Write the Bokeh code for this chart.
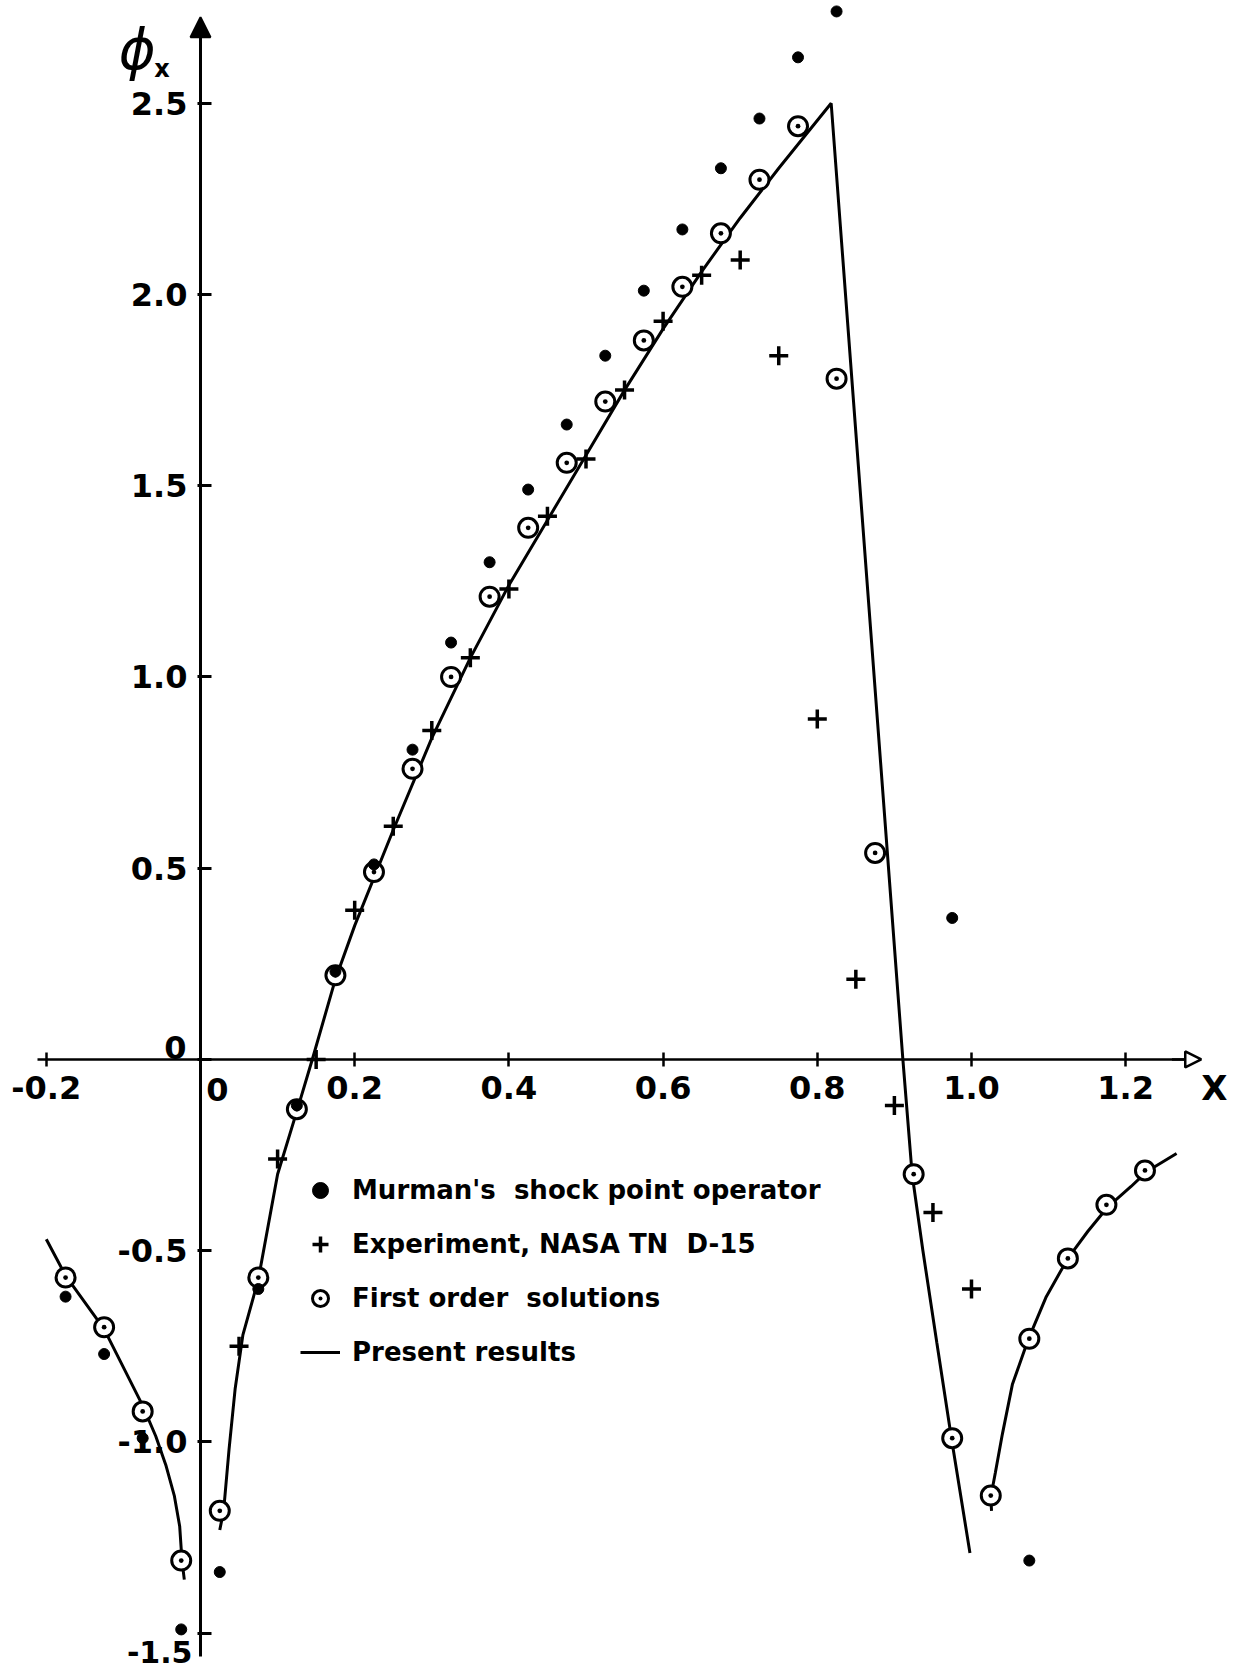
from bokeh.plotting import figure
from bokeh.models import (Range1d, FixedTicker, Label, Legend, LegendItem,
                          Arrow, NormalHead)
from bokeh.embed import file_html
from bokeh.resources import INLINE

# ---------------- data ----------------
# Murman's shock point operator (filled dots)
murman_x = [-0.175, -0.125, -0.075, -0.025, 0.025, 0.075, 0.125, 0.175,
            0.225, 0.275, 0.325, 0.375, 0.425, 0.475, 0.525, 0.575, 0.625,
            0.675, 0.725, 0.775, 0.825, 0.975, 1.075]
murman_y = [-0.62, -0.77, -0.99, -1.49, -1.34, -0.60, -0.12, 0.23,
            0.51, 0.81, 1.09, 1.30, 1.49, 1.66, 1.84, 2.01, 2.17,
            2.33, 2.46, 2.62, 2.74, 0.37, -1.31]

# Experiment, NASA TN D-15 (crosses)
exp_x = [0.05, 0.10, 0.15, 0.20, 0.25, 0.30, 0.35, 0.40, 0.45, 0.50,
         0.55, 0.60, 0.65, 0.70, 0.75, 0.80, 0.85, 0.90, 0.95, 1.00]
exp_y = [-0.75, -0.26, 0.0, 0.39, 0.61, 0.86, 1.05, 1.23, 1.42, 1.57,
         1.75, 1.93, 2.05, 2.09, 1.84, 0.89, 0.21, -0.12, -0.40, -0.60]

# First order solutions (circle with dot)
first_x = [-0.175, -0.125, -0.075, -0.025, 0.025, 0.075, 0.125, 0.175,
           0.225, 0.275, 0.325, 0.375, 0.425, 0.475, 0.525, 0.575, 0.625,
           0.675, 0.725, 0.775, 0.825, 0.875, 0.925, 0.975, 1.025, 1.075,
           1.125, 1.175, 1.225]
first_y = [-0.57, -0.70, -0.92, -1.31, -1.18, -0.57, -0.13, 0.22,
           0.49, 0.76, 1.00, 1.21, 1.39, 1.56, 1.72, 1.88, 2.02,
           2.16, 2.30, 2.44, 1.78, 0.54, -0.30, -0.99, -1.14, -0.73,
           -0.52, -0.38, -0.29]

# Present results (solid curve, three pieces)
left_x = [-0.20, -0.175, -0.125, -0.075, -0.058, -0.045, -0.034, -0.027, -0.024, -0.021]
left_y = [-0.47, -0.565, -0.705, -0.905, -0.985, -1.06, -1.14, -1.22, -1.31, -1.36]

mid_x = [0.025, 0.030, 0.037, 0.045, 0.055, 0.075, 0.100, 0.125, 0.145, 0.175,
         0.200, 0.250, 0.300, 0.350, 0.400, 0.450, 0.500, 0.550, 0.600,
         0.650, 0.700, 0.750, 0.818, 0.911, 0.923, 0.937, 0.955, 0.974, 0.998]
mid_y = [-1.23, -1.18, -1.02, -0.86, -0.72, -0.575, -0.30, -0.135, 0.0, 0.21,
         0.35, 0.60, 0.84, 1.05, 1.24, 1.41, 1.58, 1.75, 1.91,
         2.06, 2.20, 2.33, 2.50, 0.0, -0.30, -0.50, -0.74, -0.99, -1.29]

right_x = [1.026, 1.025, 1.031, 1.040, 1.053, 1.073, 1.097, 1.125, 1.151,
           1.177, 1.207, 1.228, 1.266]
right_y = [-1.18, -1.144, -1.08, -0.98, -0.85, -0.735, -0.62, -0.52, -0.449,
           -0.385, -0.332, -0.292, -0.246]

x_ticks = [-0.2, 0.0, 0.2, 0.4, 0.6, 0.8, 1.0, 1.2]
x_tick_labels = ["-0.2", "", "0.2", "0.4", "0.6", "0.8", "1.0", "1.2"]
y_ticks = [-1.5, -1.0, -0.5, 0.0, 0.5, 1.0, 1.5, 2.0, 2.5]
y_tick_labels = ["", "-1.0", "-0.5", "", "0.5", "1.0", "1.5", "2.0", "2.5"]

legend_labels = ["Murman's  shock point operator",
                 "Experiment, NASA TN  D-15",
                 "First order  solutions",
                 "Present results"]

FONT = "DejaVu Sans"

# ---------------- figure ----------------
p = figure(width=1245, height=1677,
           x_range=Range1d(-0.2594, 1.3554),
           y_range=Range1d(-1.6157, 2.7686),
           output_backend="svg", toolbar_location=None,
           min_border=0, outline_line_color=None,
           background_fill_color="white", border_fill_color="white")
p.grid.visible = False

# axes through the origin
for ax in (p.xaxis, p.yaxis):
    ax.fixed_location = 0
    ax.axis_line_color = "black"
    ax.major_tick_line_color = "black"
    ax.minor_tick_line_color = None
    ax.major_label_text_font = FONT
    ax.major_label_text_font_style = "bold"
    ax.major_label_text_font_size = "32px"
    ax.major_label_text_color = "black"

p.xaxis.ticker = FixedTicker(ticks=x_ticks)
p.xaxis.major_label_overrides = {t: s for t, s in zip(x_ticks, x_tick_labels)}
p.xaxis.bounds = (-0.212, 1.285)
p.xaxis.axis_line_width = 2.5
p.xaxis.major_tick_line_width = 2.5
p.xaxis.major_tick_in = 7
p.xaxis.major_tick_out = 7
p.xaxis.major_label_standoff = 10

p.yaxis.ticker = FixedTicker(ticks=y_ticks)
p.yaxis.major_label_overrides = {t: s for t, s in zip(y_ticks, y_tick_labels)}
p.yaxis.bounds = (-1.56, 2.70)
p.yaxis.axis_line_width = 3
p.yaxis.major_tick_line_width = 3
p.yaxis.major_tick_in = 11
p.yaxis.major_tick_out = 3
p.yaxis.major_label_standoff = 10

# arrow heads at the axis ends
p.add_layout(Arrow(end=NormalHead(size=20, fill_color="black", line_color="black", line_width=2),
                   x_start=0, y_start=2.66, x_end=0, y_end=2.725,
                   line_width=3, line_color="black"))
p.add_layout(Arrow(end=NormalHead(size=16, fill_color="white", line_color="black", line_width=2.5),
                   x_start=1.26, y_start=0, x_end=1.298, y_end=0,
                   line_width=2.5, line_color="black"))

# ---------------- data glyphs ----------------
r_line = p.multi_line(xs=[left_x, mid_x, right_x], ys=[left_y, mid_y, right_y],
                      line_color="black", line_width=3)
r_first = p.scatter(first_x, first_y, marker="circle_dot", size=19,
                    line_color="black", line_width=3, fill_color="white")
r_murman = p.scatter(murman_x, murman_y, marker="circle", size=11,
                     line_color="black", fill_color="black")
r_exp = p.scatter(exp_x, exp_y, marker="cross", size=19,
                  line_color="black", line_width=3.5)

# ---------------- texts ----------------
def lab(x, y, text, size, xo=0, yo=0, align="center", style="bold"):
    p.add_layout(Label(x=x, y=y, text=text, x_offset=xo, y_offset=yo,
                       text_font=FONT, text_font_size=size,
                       text_font_style=style, text_color="black",
                       text_align=align, text_baseline="middle"))

lab(0, 0, "0", "32px", xo=-14, yo=12, align="right")      # y-axis zero
lab(0, 0, "0", "32px", xo=17, yo=-30)                      # x-axis zero
lab(0, -1.5, "-1.5", "30px", xo=-8, yo=-19, align="right")
lab(1.315, 0, "X", "34px", yo=-29)
lab(-0.082, 2.64, "\u03d5", "56px", style="italic")
lab(-0.050, 2.59, "x", "24px")

# ---------------- legend ----------------
legend = Legend(items=[LegendItem(label=legend_labels[0], renderers=[r_murman]),
                       LegendItem(label=legend_labels[1], renderers=[r_exp]),
                       LegendItem(label=legend_labels[2], renderers=[r_first]),
                       LegendItem(label=legend_labels[3], renderers=[r_line])],
                location=(300, 305), orientation="vertical",
                glyph_width=40, glyph_height=40, label_height=40,
                spacing=14, padding=0, margin=0, label_standoff=12,
                border_line_color=None, background_fill_alpha=0,
                label_text_font=FONT, label_text_font_style="bold",
                label_text_font_size="26px", label_text_color="black")
p.add_layout(legend)

open("out.html", "w").write(file_html(p, INLINE))
